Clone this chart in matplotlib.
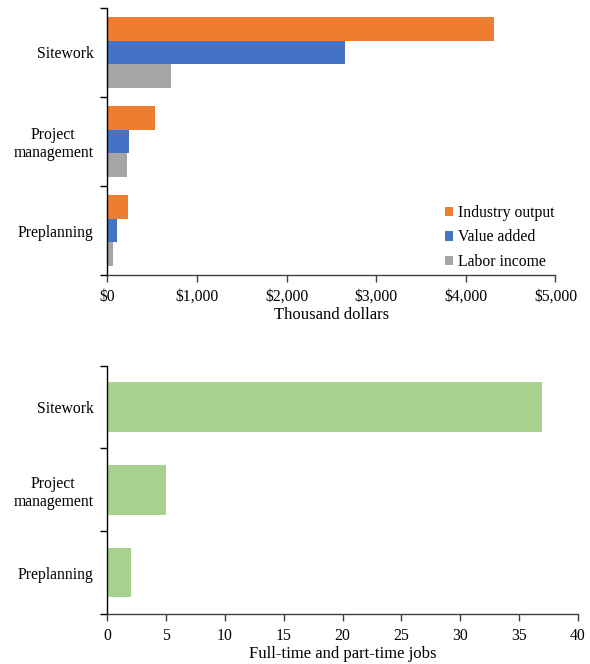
import matplotlib.pyplot as plt
import numpy as np

plt.rcParams['font.family'] = ['Liberation Serif', 'DejaVu Serif']
plt.rcParams['font.size'] = 11.3

# categories, bottom to top
categories = ['Preplanning', 'Project\nmanagement', 'Sitework']

# thousand dollars
industry_output = [226, 528, 4313]
value_added = [113, 239, 2651]
labor_income = [59, 214, 712]

# jobs
jobs = [2, 5, 37]

money_ticks = [0, 1000, 2000, 3000, 4000, 5000]
money_labels = ['$0', '$1,000', '$2,000', '$3,000', '$4,000', '$5,000']
job_ticks = [0, 5, 10, 15, 20, 25, 30, 35, 40]

orange = '#ED7D31'
blue = '#4472C4'
gray = '#A5A5A5'
green = '#A9D18E'

fig = plt.figure(figsize=(5.9, 6.64), dpi=100)

y = np.arange(len(categories))


def style_axis(ax):
    for s in ['top', 'right']:
        ax.spines[s].set_visible(False)
    ax.spines['left'].set_color('black')
    ax.spines['bottom'].set_color('#404040')
    for s in ['left', 'bottom']:
        ax.spines[s].set_linewidth(1.0)
    ax.set_ylim(-0.5, len(categories) - 0.5)
    # ticks on category boundaries, labels at centres
    ax.set_yticks(np.arange(len(categories) + 1) - 0.5)
    ax.set_yticklabels([])
    ax.set_yticks(y, minor=True)
    ax.set_yticklabels(categories, minor=True, ha='right', multialignment='center',
                       linespacing=1.15)
    ax.tick_params(axis='y', which='minor', length=0, pad=10)
    ax.tick_params(axis='y', which='major', direction='out', length=5, width=1)
    ax.tick_params(axis='x', direction='out', length=5, width=1, color='#404040', pad=5)


# top chart
ax1 = fig.add_axes([0.1819, 0.5858, 0.7596, 0.4022])
h = 0.267
ax1.barh(y + h, industry_output, height=h, color=orange, label='Industry output')
ax1.barh(y, value_added, height=h, color=blue, label='Value added')
ax1.barh(y - h, labor_income, height=h, color=gray, label='Labor income')
ax1.set_xlim(0, 5000)
ax1.set_xticks(money_ticks)
ax1.set_xticklabels(money_labels)
ax1.set_xlabel('Thousand dollars', fontsize=12, labelpad=1.5)
style_axis(ax1)
ax1.legend(loc='lower right', frameon=False, handlelength=0.55, handleheight=0.55,
           handletextpad=0.3, labelspacing=0.55, borderaxespad=0,
           bbox_to_anchor=(1.012, -0.005))

# bottom chart
ax2 = fig.add_axes([0.1819, 0.0753, 0.7973, 0.3739])
ax2.barh(y, jobs, height=0.596, color=green)
ax2.set_xlim(0, 40)
ax2.set_xticks(job_ticks)
ax2.set_xlabel('Full-time and part-time jobs', fontsize=12, labelpad=1.5)
style_axis(ax2)

fig.savefig('out.png', dpi=100)
